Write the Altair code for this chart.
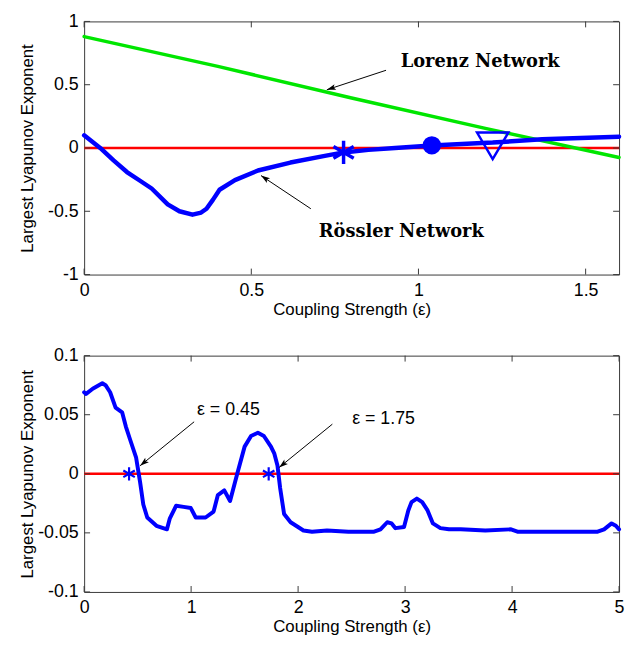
import math
import altair as alt
import pandas as pd

# ---------------- top panel data ----------------
ross_x = [0, 0.048, 0.088, 0.128, 0.165, 0.202, 0.25, 0.285, 0.324, 0.35, 0.366, 0.385,
          0.405, 0.451, 0.52, 0.617, 0.716, 0.776, 0.85, 0.93, 1.04, 1.175, 1.222, 1.37, 1.6]
ross_y = [0.10, 0.0, -0.098, -0.19, -0.255, -0.32, -0.445, -0.50, -0.527, -0.51, -0.48, -0.41,
          -0.33, -0.254, -0.178, -0.115, -0.064, -0.035, -0.015, 0.0, 0.02, 0.038, 0.043, 0.069, 0.089]
lor_x = [0, 0.4, 0.8, 1.2, 1.6]
lor_y = [0.88, 0.645, 0.395, 0.155, -0.075]

# markers on the Rössler curve
star_top_x, star_top_y = [0.776], [-0.035]
dot_x, dot_y = [1.04], [0.021]
tri_x, tri_y = [1.222], [0.017]

# annotations (text and arrows)
top_text = ["Lorenz Network", "Rössler Network"]
top_text_x = [0.947, 0.702]
top_text_y = [0.636, -0.70]
top_arr_x1 = [0.903, 0.678]
top_arr_y1 = [0.614, -0.48]
top_arr_x2 = [0.726, 0.529]
top_arr_y2 = [0.46, -0.218]

# ---------------- bottom panel data ----------------
b_x = [0, 0.018, 0.08, 0.17, 0.2, 0.243, 0.294, 0.355, 0.39, 0.431, 0.486, 0.523, 0.553, 0.59,
       0.676, 0.774, 0.80, 0.86, 0.93, 0.997, 1.043, 1.135, 1.21, 1.25, 1.31, 1.364, 1.431, 1.50,
       1.56, 1.624, 1.68, 1.746, 1.778, 1.807, 1.832, 1.869, 1.93, 2.05, 2.13, 2.27, 2.47, 2.71,
       2.77, 2.833, 2.874, 2.91, 2.99, 3.03, 3.06, 3.11, 3.16, 3.21, 3.26, 3.33, 3.41, 3.52, 3.75,
       3.99, 4.05, 4.32, 4.80, 4.86, 4.93, 4.97, 5.0]
b_y = [0.069, 0.0676, 0.072, 0.0766, 0.075, 0.069, 0.056, 0.052, 0.040, 0.0286, 0.0136, -0.007,
       -0.026, -0.037, -0.044, -0.047, -0.038, -0.027, -0.028, -0.029, -0.037, -0.037, -0.032,
       -0.018, -0.014, -0.023, 0.0, 0.023, 0.032, 0.0347, 0.032, 0.023, 0.017, 0.007, -0.012,
       -0.034, -0.041, -0.048, -0.049, -0.048, -0.049, -0.049, -0.047, -0.041, -0.042, -0.046,
       -0.045, -0.031, -0.024, -0.021, -0.024, -0.031, -0.042, -0.046, -0.047, -0.047, -0.048,
       -0.047, -0.049, -0.049, -0.049, -0.047, -0.042, -0.044, -0.047]
star_bot_x = [0.42, 1.725]
star_bot_y = [0.0, 0.0]
bot_text = ["ε = 0.45", "ε = 1.75"]
bot_text_x = [1.055, 2.505]
bot_text_y = [0.05, 0.042]
bot_arr_x1 = [1.028, 2.32]
bot_arr_y1 = [0.044, 0.042]
bot_arr_x2 = [0.523, 1.823]
bot_arr_y2 = [0.0068, 0.0054]

# ticks
XT1 = [0, 0.5, 1, 1.5]
YT1 = [-1, -0.5, 0, 0.5, 1]
XT2 = [0, 1, 2, 3, 4, 5]
YT2 = [-0.1, -0.05, 0, 0.05, 0.1]

XD1, YD1 = [0, 1.6], [-1, 1]
XD2, YD2 = [0, 5], [-0.1, 0.1]

W, H1, H2 = 541, 256, 239
SANS = "Liberation Sans"
SERIF = "DejaVu Serif"
AX = "#3a3a3a"
BLUE = "#0000ff"
RED = "#ff0000"
GREEN = "#00e600"

ASTER = "M0,-1L0,1M-0.866,-0.5L0.866,0.5M-0.866,0.5L0.866,-0.5"
TRI_DOWN = "M-1,-0.85L1,-0.85L0,0.85Z"
HEAD = "M0,0L-0.32,1L0,0.78L0.32,1Z"
MINUS = "replace(datum.label, '\u2212', '-')"


def panel(xd, yd, xt, yt, H, curves, markers, texts, arrows, text_font, text_size, text_weight):
    xs = alt.Scale(domain=xd, nice=False, zero=False)
    ys = alt.Scale(domain=yd, nice=False, zero=False)
    xax = alt.Axis(values=xt, format="~g", labelExpr=MINUS, title="Coupling Strength (ε)",
                   domain=False, ticks=False, grid=False, labelFont=SANS, labelFontSize=18,
                   labelColor="black", labelPadding=7, titleFont=SANS, titleFontSize=17,
                   titleFontWeight="normal", titleColor="black", titlePadding=2, labelFlush=False)
    yax = alt.Axis(values=yt, format="~g", labelExpr=MINUS, title="Largest Lyapunov Exponent",
                   domain=False, ticks=False, grid=False, labelFont=SANS, labelFontSize=18,
                   labelColor="black", labelPadding=6, titleFont=SANS, titleFontSize=17,
                   titleFontWeight="normal", titleColor="black", titleX=-48,
                   titleBaseline="bottom", labelFlush=False)

    X = lambda f="x": alt.X(f + ":Q", scale=xs, axis=xax, title="Coupling Strength (ε)")
    Y = lambda f="y": alt.Y(f + ":Q", scale=ys, axis=yax, title="Largest Lyapunov Exponent")

    layers = []
    # zero reference line
    layers.append(alt.Chart(pd.DataFrame({"y": [0]})).mark_rule(color=RED, strokeWidth=2.5).encode(y=Y()))

    for cx, cy, col, sw in curves:
        df = pd.DataFrame({"x": cx, "y": cy, "o": list(range(len(cx)))})
        layers.append(alt.Chart(df).mark_line(color=col, strokeWidth=sw, strokeJoin="round",
                                              strokeCap="round").encode(x=X(), y=Y(), order="o:Q"))

    for mx, my, shape, filled, size, sw in markers:
        df = pd.DataFrame({"x": mx, "y": my})
        if filled:
            m = alt.Chart(df).mark_point(shape=shape, filled=True, color=BLUE, size=size, opacity=1)
        else:
            m = alt.Chart(df).mark_point(shape=shape, filled=False, color=BLUE, size=size,
                                         strokeWidth=sw, opacity=1)
        layers.append(m.encode(x=X(), y=Y()))

    # arrows
    ax1, ay1, ax2, ay2 = arrows
    kx = W / (xd[1] - xd[0])
    ky = H / (yd[1] - yd[0])
    angs = []
    for i in range(len(ax1)):
        dx = (ax2[i] - ax1[i]) * kx
        dy = -(ay2[i] - ay1[i]) * ky
        angs.append(math.degrees(math.atan2(dx, -dy)) % 360)
    adf = pd.DataFrame({"x": ax1, "y": ay1, "x2": ax2, "y2": ay2, "ang": angs})
    layers.append(alt.Chart(adf).mark_rule(color="black", strokeWidth=1).encode(
        x=X(), y=Y(), x2="x2:Q", y2="y2:Q"))
    layers.append(alt.Chart(adf).mark_point(shape=HEAD, filled=True, color="black", size=330,
                                            opacity=1).encode(
        x=X("x2"), y=Y("y2"), angle=alt.Angle("ang:Q", scale=None)))

    tt, tx, ty = texts
    tdf = pd.DataFrame({"t": tt, "x": tx, "y": ty})
    layers.append(alt.Chart(tdf).mark_text(align="left", baseline="alphabetic", font=text_font,
                                           fontSize=text_size, fontWeight=text_weight,
                                           color="black").encode(x=X(), y=Y(), text="t:N"))

    # inward ticks on all four sides
    xtdf = pd.DataFrame({"x": xt})
    ytdf = pd.DataFrame({"y": yt})
    layers.append(alt.Chart(xtdf).mark_rule(color=AX, strokeWidth=1).encode(
        x=X(), y=alt.value(0), y2=alt.value(6)))
    layers.append(alt.Chart(xtdf).mark_rule(color=AX, strokeWidth=1).encode(
        x=X(), y=alt.value(H), y2=alt.value(H - 6)))
    layers.append(alt.Chart(ytdf).mark_rule(color=AX, strokeWidth=1).encode(
        y=Y(), x=alt.value(0), x2=alt.value(6)))
    layers.append(alt.Chart(ytdf).mark_rule(color=AX, strokeWidth=1).encode(
        y=Y(), x=alt.value(W - 6), x2=alt.value(W)))

    return alt.layer(*layers).properties(width=W, height=H)


top = panel(XD1, YD1, XT1, YT1, H1,
            curves=[(lor_x, lor_y, GREEN, 3.5), (ross_x, ross_y, BLUE, 4.5)],
            markers=[(star_top_x, star_top_y, ASTER, False, 560, 3.5),
                     (dot_x, dot_y, "circle", True, 346, 0),
                     (tri_x, tri_y, TRI_DOWN, False, 1000, 2.5)],
            texts=(top_text, top_text_x, top_text_y),
            arrows=(top_arr_x1, top_arr_y1, top_arr_x2, top_arr_y2),
            text_font=SERIF, text_size=18, text_weight="bold")

bottom = panel(XD2, YD2, XT2, YT2, H2,
               curves=[(b_x, b_y, BLUE, 4)],
               markers=[(star_bot_x, star_bot_y, ASTER, False, 180, 2.2)],
               texts=(bot_text, bot_text_x, bot_text_y),
               arrows=(bot_arr_x1, bot_arr_y1, bot_arr_x2, bot_arr_y2),
               text_font=SANS, text_size=18, text_weight="normal")

chart = alt.vconcat(top, bottom, spacing=28).configure(
    padding={"left": 10, "top": 0, "right": 0, "bottom": 0},
    background="white",
).configure_view(stroke=AX, strokeWidth=1)

chart.save("out.html", embed_options={"renderer": "svg", "actions": False})
